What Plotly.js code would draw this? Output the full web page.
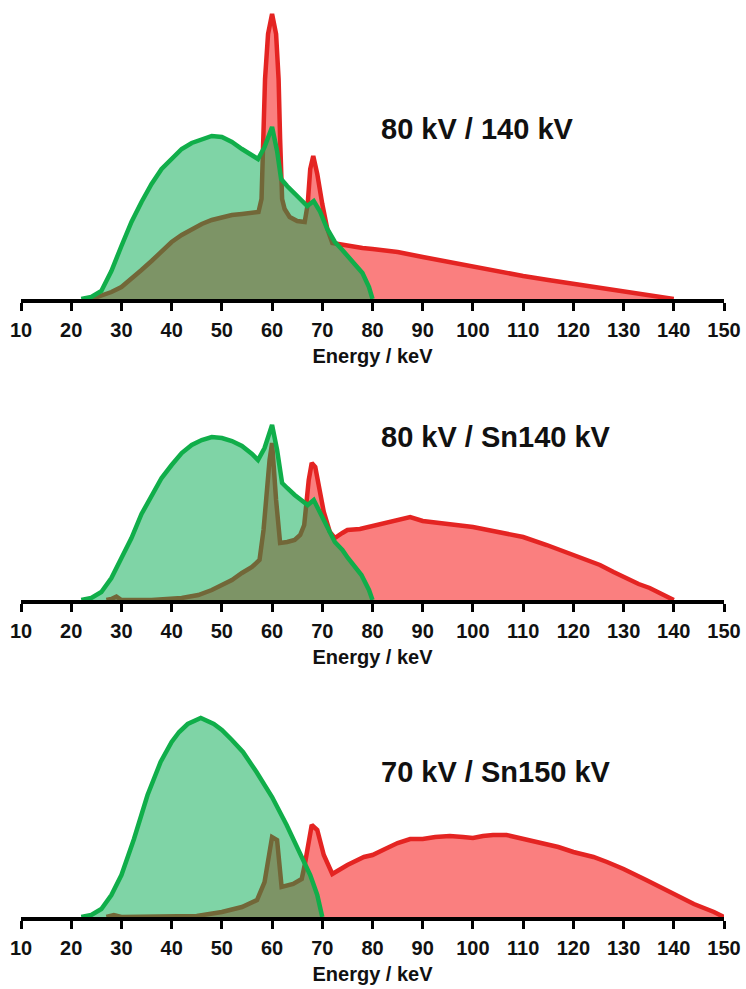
<!DOCTYPE html>
<html>
<head>
<meta charset="utf-8">
<script src="https://cdn.plot.ly/plotly-3.0.1.min.js"></script>
<style>html,body{margin:0;padding:0;background:#fff;}#chart{width:746px;height:989px;}</style>
</head>
<body>
<div id="chart"></div>
<script>
// ---------- Data (relative intensity vs energy / keV) ----------
const tickValues = [10,20,30,40,50,60,70,80,90,100,110,120,130,140,150];
const panelTitles = ["80 kV / 140 kV", "80 kV / Sn140 kV", "70 kV / Sn150 kV"];
const xAxisLabel = "Energy / keV";

// Panel 1: 80 kV (low) and 140 kV (high)
const p1LowE = [22,24,26,28,30,32,34,36,38,40,42,44,46,48,50,52,54,56,57.2,58.5,60,61,61.8,63,65,67,68.3,69.5,71,72.5,74,76,78,79.3,80];
const p1LowI = [0,2,8,28,53,77,97,115,130,140,150,156,160,163,162,157,150,144,140,152,172,148,120,113,103,93,98,88,70,57,49,38,26,12,0];
const p1HighE = [24,26,28,30,32,34,36,38,40,42,44,46,48,50,52,54,56,57.3,57.9,58.2,58.6,59.2,60,60.8,61.3,61.6,62,62.5,63.5,65,66.5,67.1,67.6,68.2,69,70,71,72,74,76,78,80,85,90,95,100,105,110,115,120,125,130,135,140];
const p1HighI = [0,3,7,12,20,29,38,47,57,64,70,75,79,82,84,85,86,87,100,160,220,265,285,265,220,160,100,90,82,78,77,95,130,143,125,95,70,56,54,52,51,50,47,42,37,32,28,23,19,15,11,7,3.5,0];

// Panel 2: 80 kV (low) and Sn140 kV (high)
const p2LowE = [22,24,26,28,30,32,34,36,38,40,42,44,46,48,50,52,54,56,57.2,58.5,60,61,62,63,64.5,67.1,68.3,69.8,71,72.5,74,75.1,77.8,79.3,80];
const p2LowI = [0,2,8,22,42,62,86,105,122,135,147,155,160,163,162,159,154,146,140,152,175,150,117,112,105,95,100,85,72,58,50,42,25,10,0];
const p2HighE = [27,28,29,30,36,40,42,45.3,48,50,52,54,56,57.5,58.3,59.5,60,60.8,61.6,63,64.5,65.6,66.4,67.3,67.9,68.6,69.3,70.3,71.5,72.5,74,75,77.5,80,82.5,85,87.5,90,94,97,100,103,105.3,110,114.7,118,120,123,125.3,128,130,133,135.2,138,140];
const p2HighI = [0,1,3.5,0,0,1,2,5,10,15,20,27,33,40,70,140,157,100,57,58,60,65,75,120,137,133,115,88,68,62,67,70,71,74,78,81,83,79,77,75,73,70,68,63,55,49,45,40,35,28,23,16,12,5,0];

// Panel 3: 70 kV (low) and Sn150 kV (high)
const p3LowE = [22,24,26,28,30,32.5,35.2,37.8,40,41.5,43.2,45.8,48.4,50,52,54.2,56.9,60,62.9,65.6,67.6,69,70];
const p3LowI = [0,2,8,22,42,78,122,155,175,185,193,199,193,187,177,165,145,120,92,62,42,22,0];
const p3HighE = [27,28.5,30,40,45,50,54,57,58.5,59.5,60,61,61.4,61.9,64.2,65.9,66.5,67.2,67.9,69,69.6,70.3,72,75,78.3,80,82.5,85,87.5,90,92.5,95.4,98,100,102,104,106.7,110,112.5,114.7,117,120,124,126.7,130,134.5,137,140,144,148,150];
const p3HighI = [0,2,0,0,1,5,10,17,35,65,80,77,55,30,33,38,52,75,92,87,75,62,43,52,60,62,68,74,78,78,80,81,80,79,81,82,82,78,75,72,70,65,60,55,48,37,31,23,13,5,0];

// ---------- Styles ----------
const lowLine = "rgb(16,174,74)";
const lowFill = "rgba(0,169,77,0.5)";
const highLine = "rgb(228,36,34)";
const highFill = "rgba(245,0,0,0.5)";
const FONT = "Liberation Sans, Arial, Helvetica, sans-serif";

const panels = [
  {lowE:p1LowE, lowI:p1LowI, highE:p1HighE, highI:p1HighI},
  {lowE:p2LowE, lowI:p2LowI, highE:p2HighE, highI:p2HighI},
  {lowE:p3LowE, lowI:p3LowI, highE:p3HighE, highI:p3HighI}
];

// pixel geometry of the layout
const plotBottom = 917, plotTop = 5, plotH = plotBottom - plotTop;
const panelPix = [ {base:299, top:5}, {base:600, top:415}, {base:917, top:705} ];
const titleY = [129, 437, 772];

const traces = [];
const layout = {
  width: 746, height: 989,
  margin: {l:21, r:22, t:plotTop, b:989-plotBottom},
  paper_bgcolor: "#fff", plot_bgcolor: "#fff",
  showlegend: false,
  font: {family: FONT, color: "#111"},
  annotations: []
};

panels.forEach((p, i) => {
  const sfx = i === 0 ? "" : String(i+1);
  const xa = "x" + sfx, ya = "y" + sfx;
  traces.push({
    x: p.highE, y: p.highI, xaxis: xa, yaxis: ya, type: "scatter", mode: "lines",
    fill: "tozeroy", fillcolor: highFill, line: {color: highLine, width: 4.5, shape: "linear"},
    hoverinfo: "skip"
  });
  traces.push({
    x: p.lowE, y: p.lowI, xaxis: xa, yaxis: ya, type: "scatter", mode: "lines",
    fill: "tozeroy", fillcolor: lowFill, line: {color: lowLine, width: 4.5, shape: "linear"},
    hoverinfo: "skip"
  });
  const pp = panelPix[i];
  const d0 = (plotBottom - pp.base) / plotH;
  const d1 = (plotBottom - pp.top) / plotH;
  layout["xaxis" + sfx] = {
    domain: [0, 1], anchor: ya, range: [10, 150],
    tickmode: "array", tickvals: tickValues, ticktext: tickValues.map(String),
    ticks: "outside", ticklen: 8, tickwidth: 3, tickcolor: "#000",
    showline: true, linewidth: 4, linecolor: "#000",
    showgrid: false, zeroline: false,
    tickfont: {family: FONT, size: 20, weight: "bold", color: "#111"},
    ticklabelstandoff: 2,
    title: {text: xAxisLabel, font: {family: FONT, size: 20, weight: "bold", color: "#111"}, standoff: 10},
    fixedrange: true
  };
  layout["yaxis" + sfx] = {
    domain: [d0, Math.min(1, d1)], anchor: xa, range: [0, pp.base - pp.top],
    visible: false, fixedrange: true
  };
  layout.annotations.push({
    text: panelTitles[i], xref: xa, yref: ya, x: 81.2, y: pp.base - titleY[i],
    xanchor: "left", yanchor: "middle", showarrow: false,
    font: {family: FONT, size: 29, weight: "bold", color: "#111"}
  });
});

Plotly.newPlot("chart", traces, layout, {displayModeBar: false, staticPlot: true});
</script>
</body>
</html>
